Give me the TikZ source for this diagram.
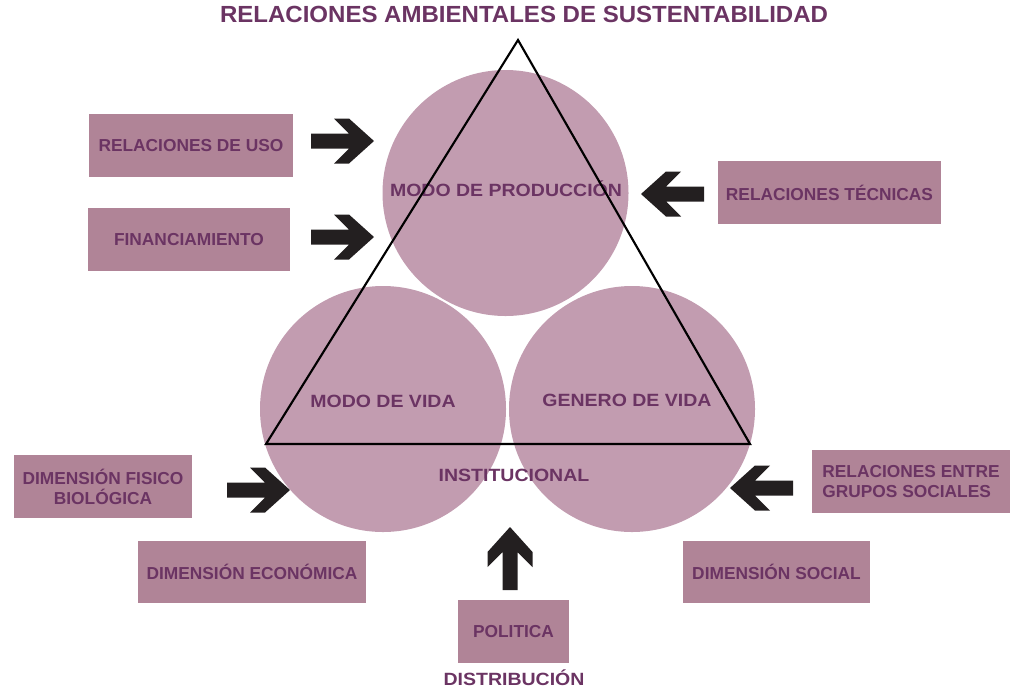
\documentclass[tikz,border=0pt]{standalone}
\usepackage{fontspec}
\setmainfont{Liberation Sans}
\newfontfamily\widefont{Liberation Sans}[FakeStretch=1.1]
\newfontfamily\titlefont{Liberation Sans}[FakeStretch=1.03]
\definecolor{boxcol}{HTML}{B08497}
\definecolor{circcol}{HTML}{C29CB0}
\definecolor{txtcol}{HTML}{6B3463}
\definecolor{arrcol}{HTML}{231F20}
\begin{document}
\begin{tikzpicture}[x=0.75pt,y=-0.75pt,
  lbox/.style={fill=boxcol,inner sep=0pt,text=txtcol,font=\fontsize{13}{15}\selectfont\bfseries,align=center},
  circ/.style={circle,fill=circcol,inner sep=0pt,minimum size=184.5pt},
  clabel/.style={text=txtcol,font=\widefont\fontsize{13.3}{15}\selectfont\bfseries,inner sep=0pt},
  blockarrow/.pic={\fill[arrcol] (0,-7.5) -- (38,-7.5) -- (23,-22.5) -- (38,-22.5) -- (63,0) -- (38,22.5) -- (23,22.5) -- (38,7.5) -- (0,7.5) -- cycle;}
]
\useasboundingbox (0,0) rectangle (1013,687);
% title
\node[text=txtcol,font=\titlefont\fontsize{17.5}{19}\selectfont\bfseries,inner sep=0pt,anchor=base] (title) at (524,22.5) {RELACIONES AMBIENTALES DE SUSTENTABILIDAD};
% circles
\node[circ] (prod) at (505.5,193) {};
\node[circ] (vida) at (383,409) {};
\node[circ] (genero) at (632,409) {};
% labels
\node[clabel] (lprod) at (506,189) {MODO DE PRODUCCIÓN};
\node[clabel] (lvida) at (383,401) {MODO DE VIDA};
\node[clabel] (lgen) at (627,400) {GENERO DE VIDA};
\node[clabel] (linst) at (514,475) {INSTITUCIONAL};
\node[clabel,anchor=base] (ldist) at (514,685) {DISTRIBUCIÓN};
% triangle
\coordinate (ta) at (518,40);
\coordinate (tl) at (266,444);
\coordinate (tr) at (750,444);
\draw[line width=1.6pt,line join=miter] (ta) -- (tl) -- (tr) -- cycle;
% boxes
\node[lbox,minimum width=153pt,minimum height=47.25pt] (uso) at (191,145.5) {RELACIONES DE USO};
\node[lbox,minimum width=151.5pt,minimum height=47.25pt] (fin) at (189,239.5) {FINANCIAMIENTO};
\node[lbox,minimum width=167.25pt,minimum height=47.25pt] (tec) at (829.5,192.5) {RELACIONES TÉCNICAS};
\node[lbox,minimum width=133.5pt,minimum height=47.25pt] (fis) at (103,486.5) {DIMENSIÓN FISICO\\BIOLÓGICA};
\node[lbox,minimum width=171pt,minimum height=46.5pt] (eco) at (252,572) {DIMENSIÓN ECONÓMICA};
\node[lbox,minimum width=148.5pt,minimum height=47.25pt,align=left] (grup) at (911,481.5) {RELACIONES ENTRE\\GRUPOS SOCIALES};
\node[lbox,minimum width=140.25pt,minimum height=46.5pt] (soc) at (776.5,572) {DIMENSIÓN SOCIAL};
\node[lbox,minimum width=83.25pt,minimum height=47.25pt] (pol) at (513.5,631.5) {POLITICA};
% arrows
\pic at (311,141) {blockarrow};
\pic at (311,237) {blockarrow};
\pic[rotate=180] at (704,194) {blockarrow};
\pic at (227,490) {blockarrow};
\pic[rotate=180] at (793,488) {blockarrow};
\pic[rotate=90] at (510,590) {blockarrow};
\end{tikzpicture}
\end{document}
